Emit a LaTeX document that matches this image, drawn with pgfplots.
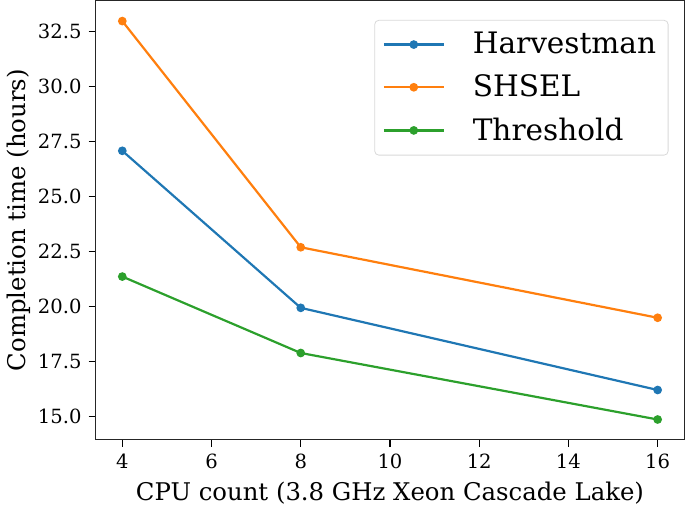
\documentclass[border=0pt]{standalone}
\usepackage{fontspec}
\setmainfont{DejaVu Serif}
\usepackage{pgfplots}
\pgfplotsset{compat=1.18}
\definecolor{c1}{HTML}{1F77B4}
\definecolor{c2}{HTML}{FF7F0E}
\definecolor{c3}{HTML}{2CA02C}
\begin{document}
\begin{tikzpicture}
\begin{axis}[
  scale only axis, width=295pt, height=220pt,
  xmin=3.4, xmax=16.6, ymin=13.96, ymax=33.9,
  xtick={4,6,...,16}, ytick={15,17.5,...,32.5},
  yticklabel style={/pgf/number format/.cd, fixed, fixed zerofill, precision=1},
  /pgf/number format/assume math mode=true,
  tick align=outside, tick pos=left, major tick length=3.5pt,
  every tick/.style={black, line width=0.6pt},
  axis line style={line width=0.6pt, black!85},
  ticklabel style={font=\fontsize{9.8}{11}\selectfont},
  xlabel={CPU count (3.8 GHz Xeon Cascade Lake)},
  ylabel={Completion time (hours)},
  label style={font=\fontsize{12.2}{14}\selectfont},
  ylabel style={yshift=-3pt},
  legend style={at={(0.973,0.956)}, anchor=north east, draw=black!15, rounded corners=2pt,
    font=\fontsize{14.8}{17}\selectfont, inner xsep=4pt, inner ysep=4pt,
    row sep=5pt},
  legend cell align=left,
  legend image code/.code={\draw[mark repeat=2,mark phase=2] plot coordinates {(0pt,0pt)(15pt,0pt)(30pt,0pt)};\path (42pt,0pt);},
  every axis plot/.append style={line width=1.1pt, mark=*, mark size=1.6pt},
]
\addplot[c1, mark options={fill=c1}] coordinates {(4,27.08) (8,19.95) (16,16.22)};
\addlegendentry{Harvestman}
\addplot[c2, mark options={fill=c2}] coordinates {(4,32.97) (8,22.7) (16,19.5)};
\addlegendentry{SHSEL}
\addplot[c3, mark options={fill=c3}] coordinates {(4,21.37) (8,17.9) (16,14.88)};
\addlegendentry{Threshold}
\end{axis}
\end{tikzpicture}
\end{document}
